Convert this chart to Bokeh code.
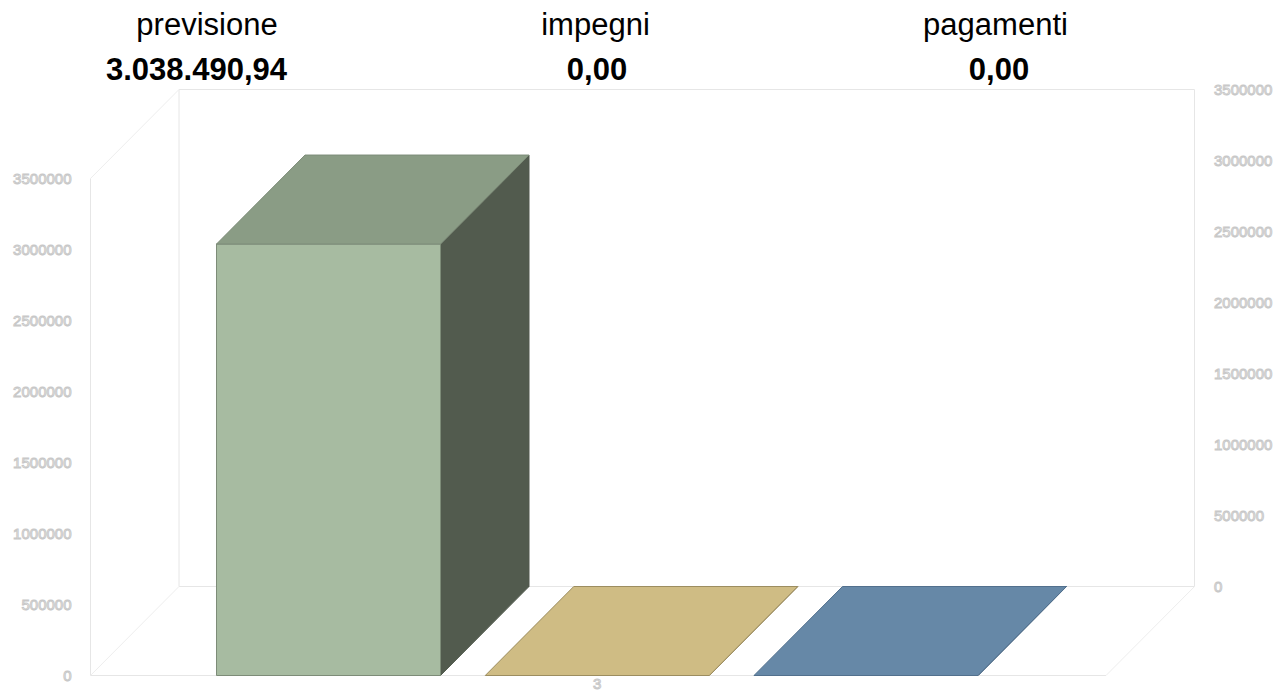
from bokeh.plotting import figure
from bokeh.models import Range1d
from bokeh.core.properties import value
from bokeh.embed import file_html
from bokeh.resources import INLINE

# ---- data ----
categories = ["previsione", "impegni", "pagamenti"]
values = [3038490.94, 0.0, 0.0]
value_labels = ["3.038.490,94", "0,00", "0,00"]
front_colors = ["#a7bba1", "#d8c896", "#7a98b4"]
top_colors = ["#8a9c85", "#cfbc84", "#6688a7"]
side_colors = ["#525b4e", "#8f8259", "#46607a"]
edge_colors = ["#7d8c78", "#9c8d60", "#52708d"]
y_ticks = [0, 500000, 1000000, 1500000, 2000000, 2500000, 3000000, 3500000]
x_tick_label = "3"
y_max = 3500000

# ---- layout (pixel geometry of the 3D box) ----
W, H = 1280, 692
OFF = 0                  # page offset of the canvas
PX_X = 268.75            # pixels per category unit
PX_Y = 71.0 / 500000     # pixels per value unit
ORIGIN_PX = (328 - OFF, 675 - OFF)   # canvas px of (category 0, value 0)
BAR_W = 224 / PX_X
DX = 88.5 / PX_X
DY = 89 / PX_Y
X0 = (90 - OFF - ORIGIN_PX[0]) / PX_X
X1 = (1105.5 - OFF - ORIGIN_PX[0]) / PX_X

x_start = -ORIGIN_PX[0] / PX_X
x_end = (W - ORIGIN_PX[0]) / PX_X
y_start = -(H - ORIGIN_PX[1]) / PX_Y
y_end = ORIGIN_PX[1] / PX_Y


def px_to_x(px):
    return (px - OFF - ORIGIN_PX[0]) / PX_X


def py_to_y(py):
    return (675 - py) / PX_Y


p = figure(width=W, height=H, x_range=Range1d(x_start, x_end),
           y_range=Range1d(y_start, y_end), output_backend="svg",
           toolbar_location=None, min_border=0)
p.axis.visible = False
p.grid.visible = False
p.outline_line_color = None
p.background_fill_color = "white"

wall = "#e6e6e6"
wall2 = "#eeeeee"
# back wall
p.quad(left=X0 + DX, right=X1 + DX, bottom=DY, top=y_max + DY,
       fill_color=None, line_color=wall, line_width=1)
# left wall & floor edges
p.segment(x0=[X0, X0, X0, X0, X1], y0=[0, 0, y_max, 0, 0],
          x1=[X0, X1, X0 + DX, X0 + DX, X1 + DX], y1=[y_max, 0, y_max + DY, DY, DY],
          line_color=[wall, wall, wall2, wall2, wall2], line_width=1)

# bars
for i, v in enumerate(values):
    l = i - BAR_W / 2
    r = i + BAR_W / 2
    # side face
    p.patch([r, r + DX, r + DX, r], [0, DY, v + DY, v],
            fill_color=side_colors[i], line_color=side_colors[i], line_width=1)
    # front face
    if v > 0:
        p.quad(left=l, right=r, bottom=0, top=v,
               fill_color=front_colors[i], line_color=edge_colors[i], line_width=1)
    # top face
    p.patch([l, r, r + DX, l + DX], [v, v, v + DY, v + DY],
            fill_color=top_colors[i], line_color=edge_colors[i], line_width=1)

# tick labels (outlined light text)
lab_font = value("Liberation Sans")
tick_style = dict(text_font=lab_font, text_font_size="15px", text_color="white",
                  text_outline_color="#c8c8c8")
p.text(x=[X0 - 19 / PX_X] * len(y_ticks), y=y_ticks,
       text=[str(t) for t in y_ticks], text_align="right", text_baseline="middle",
       **tick_style)
p.text(x=[X1 + DX + 19.5 / PX_X] * len(y_ticks), y=[t + DY for t in y_ticks],
       text=[str(t) for t in y_ticks], text_align="left", text_baseline="middle",
       **tick_style)
p.text(x=[1], y=[py_to_y(683)], text=[x_tick_label], text_align="center",
       text_baseline="middle", **tick_style)

# headers
title_px = [206.5, 595, 995]
value_px = [196, 596.5, 998.5]
p.text(x=[px_to_x(t) for t in title_px], y=[py_to_y(24)] * 3, text=categories,
       text_align="center", text_baseline="middle", text_font=lab_font,
       text_font_size="31px", text_color="black")
p.text(x=[px_to_x(t) for t in value_px], y=[py_to_y(68)] * 3, text=value_labels,
       text_align="center", text_baseline="middle", text_font=lab_font,
       text_font_size="31px", text_font_style="bold", text_color="black")

open("out.html", "w").write(file_html(p, INLINE))
